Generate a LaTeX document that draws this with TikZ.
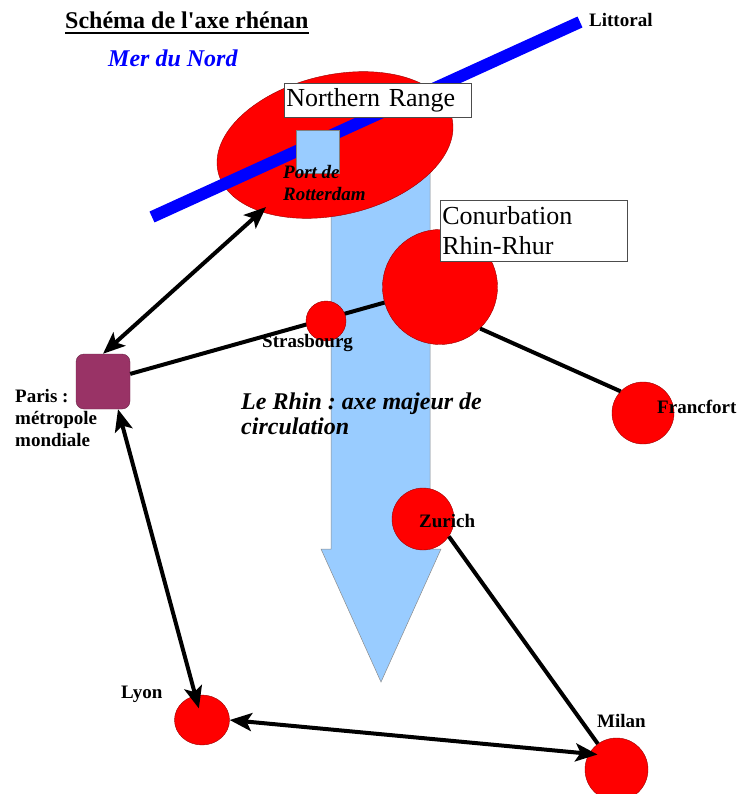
\documentclass[tikz,border=0pt]{standalone}
\usepackage{fontspec}
\setmainfont{Liberation Serif}[Ligatures=TeXOff]
\usetikzlibrary{arrows.meta,shapes.geometric}
\frenchspacing

\definecolor{rouge}{RGB}{255,0,0}
\definecolor{bleuclair}{RGB}{153,204,255}
\definecolor{prune}{RGB}{153,51,102}
\definecolor{bleu}{RGB}{0,0,255}

\begin{document}
\begin{tikzpicture}[
    x=1pt, y=-1pt,
    ville/.style={circle, draw=red!60!black, line width=0.4pt, fill=rouge, inner sep=0pt},
    nom/.style={font=\fontsize{19}{22}\selectfont\bfseries, inner sep=0pt, anchor=base west},
    cadre/.style={rectangle, draw=black!70, fill=white, line width=0.6pt, font=\fontsize{26}{30}\selectfont, text width=183pt, align=left, inner xsep=2pt, inner ysep=0pt},
    lien/.style={line width=4pt, black},
    fleche/.style={lien, {Stealth[length=22pt,width=18pt,inset=5pt]}-{Stealth[length=22pt,width=18pt,inset=5pt]}}
]
\useasboundingbox (0,0) rectangle (738,794);

% Le Rhin (grande fleche)
\filldraw[fill=bleuclair, draw=black!45, line width=0.5pt] (331,155) -- (331,549) -- (321,549) -- (381,682) -- (441,549) -- (430,549) -- (430,155) -- cycle;

% Northern Range et littoral
\node[ellipse, draw=red!60!black, fill=rouge, minimum width=240pt, minimum height=140pt, rotate=13, inner sep=0pt] (rotterdam) at (335,145) {};
\coordinate (littoralA) at (152,217);
\coordinate (littoralB) at (580,22);
\draw[bleu, line width=12pt] (littoralA) -- (littoralB);
\node[rectangle, draw=black!50, fill=bleuclair, minimum size=43pt, inner sep=0pt] (port) at (317.5,151.5) {};
\node[cadre, anchor=north west, minimum height=34pt] (range) at (284,83) {Northern Range};
\node[anchor=north west, align=left, inner sep=0pt, font=\fontsize{19}{22}\selectfont\bfseries\itshape] (portnom) at (283,165) {Port de\\Rotterdam};

% Conurbation Rhin-Rhur
\node[ville, minimum size=115pt] (ruhr) at (440,287) {};
\node[cadre, anchor=north west, minimum height=61pt] (conurb) at (440,200) {Conurbation\\Rhin-Rhur};

% Paris
\node[rectangle, rounded corners=8pt, draw=prune!70!black, fill=prune, minimum width=54pt, minimum height=55pt, inner sep=0pt] (paris) at (103,381.5) {};
\node[nom, anchor=north west, align=left] (parisnom) at (15,389) {Paris :\\métropole\\mondiale};

% Francfort
\node[ville, minimum size=62pt] (francfort) at (643,413) {};
\draw[lien] (paris) -- (ruhr);
\draw[lien] (ruhr.-46) -- (francfort.136);

% Strasbourg
\node[ville, minimum size=40pt] (stras) at (326,321) {};
\node[nom] (strasnom) at (262,347) {Strasbourg};
\node[nom] (francfortnom) at (657,413) {Francfort};

% Texte du Rhin
\node[anchor=north west, align=left, inner sep=0pt, font=\fontsize{24}{25}\selectfont\bfseries\itshape] (rhin) at (241,392.5) {Le Rhin : axe majeur de\\circulation};

% Zurich, Lyon, Milan
\node[ville, minimum size=62pt] (zurich) at (423,519) {};
\node[nom] (zurichnom) at (419,527) {Zurich};
\node[ville, ellipse, minimum width=55pt, minimum height=50pt] (lyon) at (202,720) {};
\node[nom] (lyonnom) at (121,698) {Lyon};
\node[ville, minimum size=63pt] (milan) at (616.5,769.5) {};
\node[nom] (milannom) at (597,727) {Milan};

% Liaisons
\draw[lien] (zurich.-34) -- (milan.126);
\draw[fleche, shorten >=-7pt] (paris.north) -- (rotterdam);
\draw[fleche, shorten >=12pt] ([xshift=15pt]paris.south) -- (lyon.center);
\draw[fleche] (lyon.east) -- ([xshift=-19pt, yshift=15pt]milan.center);

% Titres
\node[anchor=base west, inner sep=0pt, font=\fontsize{24}{28}\selectfont\bfseries] (titre) at (65,29) {Schéma de l'axe rhénan};
\draw[line width=1.5pt] ([yshift=-4pt]titre.base west) -- ([yshift=-4pt]titre.base east);
\node[anchor=base west, inner sep=0pt, text=bleu, font=\fontsize{24}{28}\selectfont\bfseries\itshape] (mer) at (108,67) {Mer du Nord};
\node[nom] (littoral) at (589,27) {Littoral};
\end{tikzpicture}
\end{document}
